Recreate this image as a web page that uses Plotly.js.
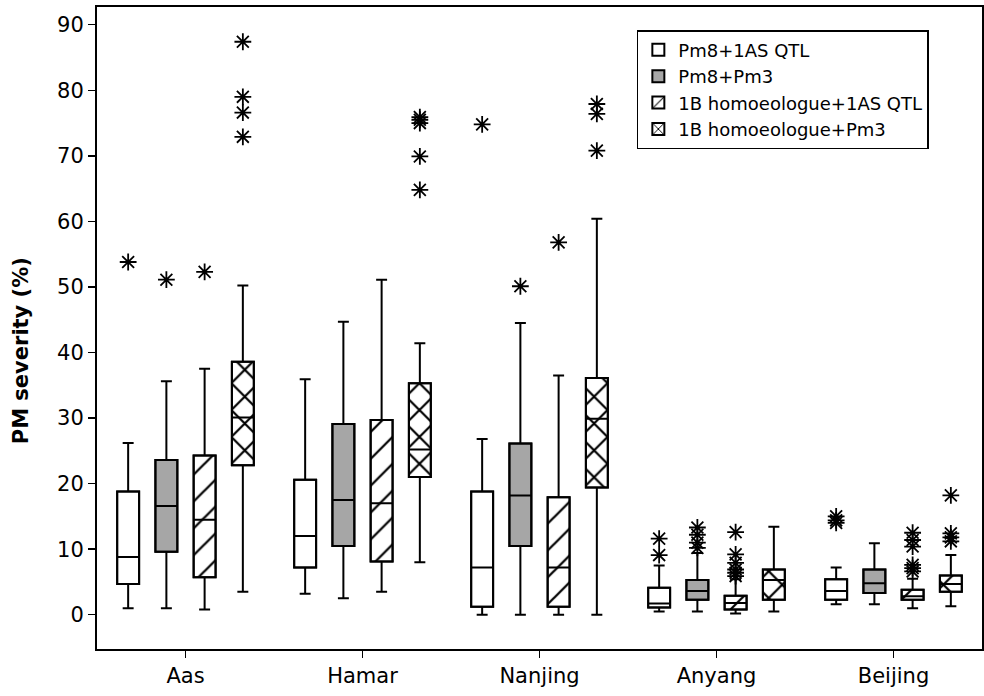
<!DOCTYPE html>
<html><head><meta charset="utf-8">
<script src="https://cdn.plot.ly/plotly-3.0.1.min.js"></script>
<style>html,body{margin:0;padding:0;background:#fff}</style>
</head><body><div id="chart" style="width:984px;height:696px"></div>
<script>
const locations = ['Aas', 'Hamar', 'Nanjing', 'Anyang', 'Beijing'];
const groupNames = ['Pm8+1AS QTL', 'Pm8+Pm3', '1B homoeologue+1AS QTL', '1B homoeologue+Pm3'];

// Pm8+1AS QTL
const g1Lower  = [1.0, 3.2, 0.0, 0.5, 1.6];
const g1Q1     = [4.7, 7.2, 1.2, 1.1, 2.3];
const g1Median = [8.8, 12.0, 7.2, 1.7, 3.6];
const g1Q3     = [18.8, 20.6, 18.8, 4.1, 5.4];
const g1Upper  = [26.2, 35.9, 26.8, 7.5, 7.2];
const g1OutX   = ['Aas', 'Nanjing', 'Anyang', 'Anyang', 'Beijing', 'Beijing', 'Beijing'];
const g1OutY   = [53.8, 74.8, 11.6, 9.1, 15.0, 14.4, 14.0];

// Pm8+Pm3
const g2Lower  = [1.0, 2.5, 0.0, 0.5, 1.6];
const g2Q1     = [9.6, 10.5, 10.5, 2.3, 3.3];
const g2Median = [16.6, 17.5, 18.2, 3.6, 4.8];
const g2Q3     = [23.6, 29.1, 26.1, 5.3, 6.9];
const g2Upper  = [35.6, 44.7, 44.5, 9.4, 10.9];
const g2OutX   = ['Aas', 'Nanjing', 'Anyang', 'Anyang', 'Anyang', 'Anyang'];
const g2OutY   = [51.1, 50.1, 13.3, 12.2, 11.0, 10.2];

// 1B homoeologue+1AS QTL
const g3Lower  = [0.8, 3.5, 0.0, 0.2, 1.0];
const g3Q1     = [5.7, 8.1, 1.2, 0.8, 2.3];
const g3Median = [14.5, 17.0, 7.2, 1.8, 2.8];
const g3Q3     = [24.3, 29.7, 17.9, 2.9, 3.8];
const g3Upper  = [37.5, 51.1, 36.5, 5.4, 5.5];
const g3OutX   = ['Aas', 'Nanjing', 'Anyang', 'Anyang', 'Anyang', 'Anyang', 'Anyang', 'Anyang',
                  'Beijing', 'Beijing', 'Beijing', 'Beijing', 'Beijing', 'Beijing'];
const g3OutY   = [52.3, 56.8, 12.6, 9.2, 7.9, 6.9, 6.4, 5.9, 12.5, 11.4, 10.4, 7.6, 7.1, 6.6];

// 1B homoeologue+Pm3
const g4Lower  = [3.5, 8.0, 0.0, 0.5, 1.3];
const g4Q1     = [22.8, 21.0, 19.4, 2.3, 3.5];
const g4Median = [30.1, 25.2, 29.9, 5.3, 4.7];
const g4Q3     = [38.6, 35.3, 36.1, 6.9, 6.0];
const g4Upper  = [50.2, 41.4, 60.4, 13.4, 9.1];
const g4OutX   = ['Aas', 'Aas', 'Aas', 'Aas', 'Hamar', 'Hamar', 'Hamar', 'Hamar', 'Hamar',
                  'Nanjing', 'Nanjing', 'Nanjing', 'Beijing', 'Beijing', 'Beijing', 'Beijing'];
const g4OutY   = [87.4, 79.0, 76.6, 72.9, 75.9, 75.5, 75.0, 69.9, 64.8, 77.9, 76.4, 70.8, 18.2, 12.4, 11.8, 11.2];

const yTicks = [0, 10, 20, 30, 40, 50, 60, 70, 80, 90];

const groups = [
  {lower: g1Lower, q1: g1Q1, med: g1Median, q3: g1Q3, upper: g1Upper, ox: g1OutX, oy: g1OutY,
   color: '#ffffff', pattern: {shape: ''}},
  {lower: g2Lower, q1: g2Q1, med: g2Median, q3: g2Q3, upper: g2Upper, ox: g2OutX, oy: g2OutY,
   color: '#a6a6a6', pattern: {shape: ''}},
  {lower: g3Lower, q1: g3Q1, med: g3Median, q3: g3Q3, upper: g3Upper, ox: g3OutX, oy: g3OutY,
   color: '#ffffff', pattern: {shape: '/', fgcolor: '#000', bgcolor: '#fff', size: 19, solidity: 0.12}},
  {lower: g4Lower, q1: g4Q1, med: g4Median, q3: g4Q3, upper: g4Upper, ox: g4OutX, oy: g4OutY,
   color: '#ffffff', pattern: {shape: 'x', fgcolor: '#000', bgcolor: '#fff', size: 19, solidity: 0.22}}
];

const FONT = 'DejaVu Sans, Verdana, sans-serif';
const traces = [];
groups.forEach((g, i) => {
  traces.push({
    type: 'bar', name: groupNames[i], x: locations,
    base: g.q1, y: g.q3.map((v, k) => v - g.q1[k]),
    marker: {color: g.color, pattern: g.pattern, line: {color: '#000', width: 2}},
    hoverinfo: 'skip', legendgroup: 'g' + i
  });
});
groups.forEach((g, i) => {
  traces.push({
    type: 'box', name: groupNames[i], x: locations,
    q1: g.q1, median: g.med, q3: g.q3, lowerfence: g.lower, upperfence: g.upper,
    fillcolor: 'rgba(0,0,0,0)', line: {color: '#000', width: 2},
    showlegend: false, legendgroup: 'g' + i
  });
});
groups.forEach((g, i) => {
  traces.push({
    type: 'scatter', mode: 'markers', name: groupNames[i], x: g.ox, y: g.oy,
    orientation: 'v',
    marker: {symbol: 'asterisk-open', size: 14, color: '#000', line: {color: '#000', width: 1.8}},
    showlegend: false, legendgroup: 'g' + i
  });
});

const layout = {
  width: 984, height: 696,
  margin: {l: 97, r: 2, t: 7, b: 47},
  paper_bgcolor: '#fff', plot_bgcolor: '#fff',
  font: {family: FONT, color: '#000'},
  showlegend: true,
  boxmode: 'group', boxgap: 0.136, boxgroupgap: 0.426,
  barmode: 'group', bargap: 0.136, bargroupgap: 0.426,
  scattermode: 'group', scattergap: 0.136,
  xaxis: {
    type: 'category', categoryorder: 'array', categoryarray: locations,
    range: [-0.5, 4.5], showgrid: false, zeroline: false,
    showline: true, mirror: true, linecolor: '#000', linewidth: 2,
    ticks: 'outside', ticklen: 7, tickwidth: 1.5, tickcolor: '#000',
    tickfont: {family: FONT, size: 21, color: '#000'}
  },
  yaxis: {
    range: [-5.23, 92.7], tickvals: yTicks, ticktext: yTicks.map(String),
    showgrid: false, zeroline: false,
    showline: true, mirror: true, linecolor: '#000', linewidth: 2,
    ticks: 'outside', ticklen: 7, tickwidth: 1.5, tickcolor: '#000',
    tickfont: {family: FONT, size: 21, color: '#000'}
  },
  legend: {
    x: 0.61, y: 0.964, xanchor: 'left', yanchor: 'top',
    bgcolor: '#fff', bordercolor: '#000', borderwidth: 1.5,
    font: {family: FONT, size: 18, color: '#000'}, tracegroupgap: 0
  },
  annotations: [{
    text: '<b>PM severity (%)</b>', textangle: -90, showarrow: false,
    xref: 'paper', yref: 'paper', x: -0.085, y: 0.465, xanchor: 'center', yanchor: 'middle',
    font: {family: FONT, size: 21, color: '#000'}
  }]
};

Plotly.newPlot('chart', traces, layout, {displayModeBar: false, staticPlot: true});
</script></body></html>
